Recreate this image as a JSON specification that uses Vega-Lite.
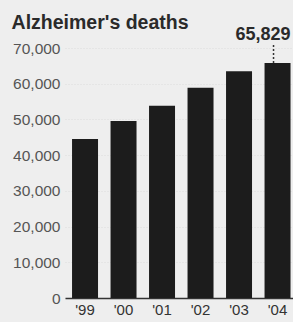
{
  "$schema": "https://vega.github.io/schema/vega-lite/v6.json",
  "width": 228,
  "height": 250,
  "autosize": "none",
  "padding": {"left": 65, "top": 48, "right": 0, "bottom": 24},
  "background": "#eeeeee",
  "title": {"text": "Alzheimer's deaths", "anchor": "start", "dx": -1, "offset": 0, "dy": 23, "baseline": "alphabetic", "fontSize": 19.5, "font": "Liberation Sans", "fontWeight": "bold", "color": "#2a2a2a"},
  "config": {"view": {"stroke": null}},
  "data": {"values": [
    {"year": "'99", "deaths": 44536},
    {"year": "'00", "deaths": 49558},
    {"year": "'01", "deaths": 53852},
    {"year": "'02", "deaths": 58866},
    {"year": "'03", "deaths": 63457},
    {"year": "'04", "deaths": 65829}
  ]},
  "encoding": {
    "x": {"field": "year", "type": "ordinal", "sort": null,
      "scale": {"paddingInner": 0.325, "paddingOuter": 0.1235, "align": 0.74},
      "axis": {"title": null, "labelAngle": 0, "ticks": false, "domainColor": "#333333", "domainWidth": 1.5, "labelPadding": 4, "labelFontSize": 15, "labelFont": "Liberation Sans", "labelColor": "#333333"}},
    "y": {"field": "deaths", "type": "quantitative",
      "scale": {"domain": [0, 70000]},
      "axis": {"title": null, "domain": false, "ticks": false, "labelPadding": 5, "labelFontSize": 15.5, "labelFont": "Liberation Sans", "labelColor": "#555555", "values": [0, 10000, 20000, 30000, 40000, 50000, 60000, 70000], "format": ",.0f", "labelOverlap": false, "labelBound": false, "grid": true, "gridColor": "#dddddd", "gridDash": [1, 2]}}
  },
  "layer": [
    {
      "mark": {"type": "bar", "color": "#1c1c1c"}
    },
    {
      "transform": [{"filter": "datum.year == \"'04\""}],
      "mark": {"type": "rule", "strokeDash": [2, 2], "strokeWidth": 1.5, "xOffset": -4, "color": "#333333"},
      "encoding": {
        "y2": {"datum": 71400}
      }
    },
    {
      "transform": [{"filter": "datum.year == \"'04\""}],
      "mark": {"type": "text", "align": "right", "baseline": "alphabetic", "dx": 13, "dy": -23, "fontSize": 18, "font": "Liberation Sans", "fontWeight": "bold", "color": "#2a2a2a"},
      "encoding": {
        "text": {"field": "deaths", "type": "quantitative", "format": ","}
      }
    }
  ]
}
